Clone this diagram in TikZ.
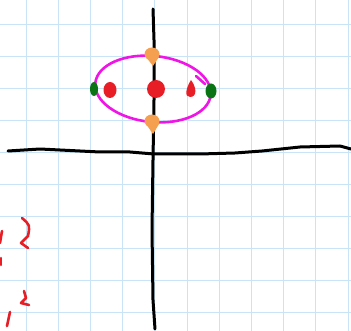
\documentclass[tikz,border=0pt]{standalone}
\usepackage{tikz}
\usetikzlibrary{calc}
\definecolor{gridblue}{RGB}{200,228,246}
\definecolor{inkred}{RGB}{232,30,38}
\definecolor{inkgreen}{RGB}{10,115,20}
\definecolor{inkorange}{RGB}{245,160,80}
\definecolor{inkpink}{RGB}{240,20,230}
\def\blob[#1](#2)(#3:#4){\fill[#1] (#2) ellipse (#3 and #4);}

\begin{document}
\begin{tikzpicture}[x=1pt,y=-1pt]
		%%%%% START %%%%%
		
		\useasboundingbox[fill=white] (0, 0) rectangle (351, 331);
		
		\foreach \gx in {0,...,10} \draw[line width=1pt, color=gridblue] ({26+32.2*\gx}, 0) -- ({26+32.2*\gx}, 331);
		\foreach \gy in {0,...,9} \draw[line width=1pt, color=gridblue] (0, {25+32*\gy}) -- (351, {25+32*\gy});
		
		% axes
		\draw[line width=3pt, color=black, line cap=round, line join=round] (8, 151) -- (40, 149) -- (70, 150.5) -- (100, 152) -- (130, 152) -- (154, 154) -- (200, 154) -- (235, 153) -- (262, 151) -- (300, 147) -- (340, 146) -- (351, 149);
		\draw[line width=3pt, color=black, line cap=round, line join=round] (153, 9) -- (154, 40) -- (154, 100) -- (153, 160) -- (152, 230) -- (153, 300) -- (155, 329);
		
		% ellipse
		\draw[line width=2.6pt, color=inkpink, rotate around={-6:(153, 89)}] (153, 89) ellipse (58 and 33);
		\draw[line width=2.6pt, color=inkpink, line cap=round] (196, 76) -- (205, 84);
		
		% dots
		\blob[inkgreen](94, 89)(4:7);
		\blob[inkgreen](211, 91)(5.5:7.5);
		\blob[inkred](110, 90)(6.5:8);
		\blob[inkred](156, 89)(9:9);
		\fill[inkred] (191, 80) .. controls (197, 88) and (197, 97) .. (190, 97) .. controls (184, 97) and (186, 88) .. (191, 80);
		\blob[inkorange](152, 54)(7.5:6.5);
		\fill[inkorange] (146, 57) -- (159, 57) -- (153, 66) -- cycle;
		\blob[inkorange](152, 121)(7.5:6.5);
		\fill[inkorange] (146, 124) -- (159, 124) -- (153, 134) -- cycle;
		
		% red scribbles
		\draw[line width=2.6pt, color=inkred, line cap=round] (2, 231) -- (0, 243);
		\draw[line width=2.6pt, color=inkred, line cap=round, line join=round] (22, 218) .. controls (30, 225) .. (28, 236) -- (21, 243) -- (28, 248);
		\draw[line width=2.6pt, color=inkred, line cap=round] (1, 258) -- (1, 265);
		\draw[line width=2.6pt, color=inkred, line cap=round, line join=round] (24, 291) -- (26, 298) -- (21, 303) -- (29, 305);
		\draw[line width=2.6pt, color=inkred, line cap=round] (10, 312) -- (7, 326);
		
		%%%%% END %%%%%
	\end{tikzpicture}
\end{document}
